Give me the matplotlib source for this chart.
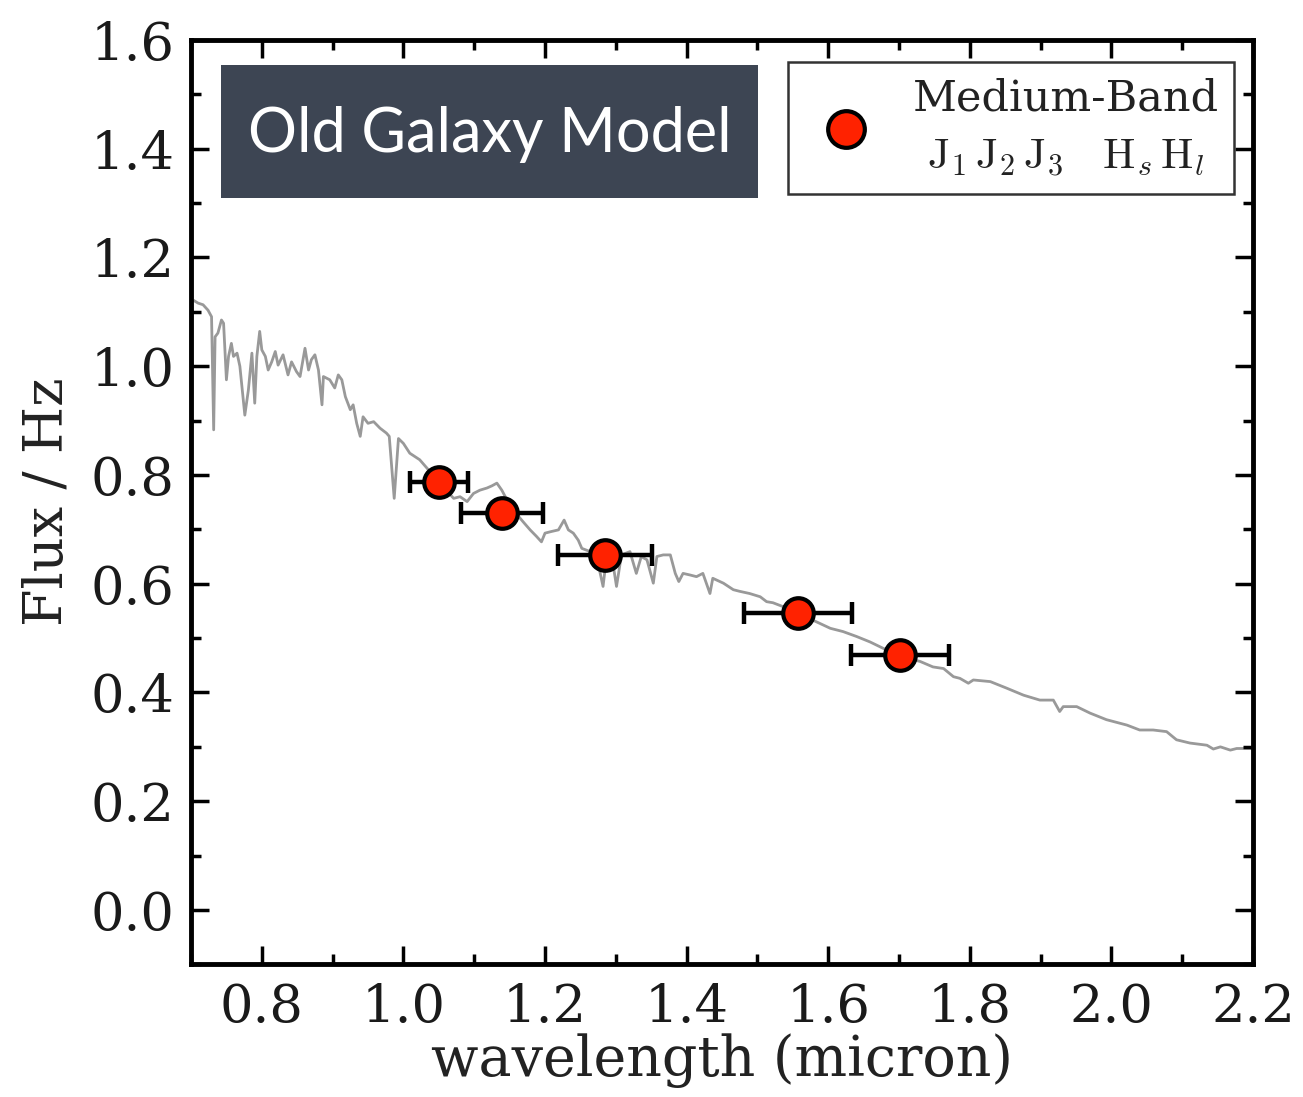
import matplotlib
matplotlib.use("Agg")
import matplotlib.pyplot as plt
from matplotlib.patches import Rectangle
from matplotlib.ticker import MultipleLocator

# model spectrum (micron, flux)
model_wl = [0.705, 0.710, 0.717, 0.724, 0.729, 0.732, 0.734, 0.738, 0.743, 0.746,
            0.750, 0.753, 0.757, 0.760, 0.765, 0.769, 0.776, 0.781, 0.786, 0.790,
            0.793, 0.797, 0.800, 0.805, 0.809, 0.814, 0.819, 0.823, 0.830, 0.837,
            0.842, 0.849, 0.854, 0.861, 0.866, 0.870, 0.875, 0.880, 0.885, 0.887,
            0.896, 0.903, 0.908, 0.913, 0.918, 0.925, 0.929, 0.934, 0.939, 0.943,
            0.950, 0.958, 0.967, 0.976, 0.980, 0.987, 0.993, 1.000, 1.009, 1.023,
            1.035, 1.050, 1.060, 1.071, 1.080, 1.090, 1.099, 1.108, 1.118, 1.125,
            1.132, 1.139, 1.150, 1.160, 1.169, 1.179, 1.188, 1.195, 1.200, 1.209,
            1.219, 1.227, 1.233, 1.240, 1.247, 1.252, 1.262, 1.272, 1.282, 1.287,
            1.295, 1.301, 1.308, 1.320, 1.329, 1.336, 1.344, 1.353, 1.358, 1.367,
            1.377, 1.384, 1.389, 1.395, 1.405, 1.414, 1.423, 1.433, 1.437, 1.452,
            1.466, 1.475, 1.489, 1.504, 1.513, 1.522, 1.540, 1.557, 1.575, 1.588,
            1.603, 1.621, 1.640, 1.659, 1.678, 1.700, 1.715, 1.730, 1.748, 1.763,
            1.777, 1.786, 1.798, 1.805, 1.829, 1.852, 1.876, 1.899, 1.918, 1.927,
            1.932, 1.951, 1.970, 1.993, 2.022, 2.040, 2.059, 2.078, 2.092, 2.111,
            2.135, 2.144, 2.154, 2.168, 2.177, 2.196, 2.200]
model_flux = [1.120, 1.116, 1.113, 1.103, 1.091, 0.883, 1.054, 1.061, 1.085, 1.079,
              0.975, 1.018, 1.042, 1.018, 1.024, 1.000, 0.910, 0.956, 1.024, 0.932,
              1.018, 1.064, 1.030, 1.018, 0.993, 1.008, 1.027, 1.002, 1.021, 0.984,
              1.008, 0.990, 0.981, 1.033, 0.993, 1.012, 1.021, 0.993, 0.929, 0.981,
              0.975, 0.960, 0.984, 0.975, 0.944, 0.920, 0.929, 0.895, 0.871, 0.907,
              0.895, 0.898, 0.886, 0.877, 0.871, 0.757, 0.867, 0.858, 0.840, 0.828,
              0.810, 0.790, 0.772, 0.757, 0.760, 0.751, 0.766, 0.772, 0.776, 0.780,
              0.785, 0.772, 0.745, 0.728, 0.714, 0.699, 0.687, 0.677, 0.693, 0.696,
              0.699, 0.717, 0.699, 0.693, 0.680, 0.665, 0.660, 0.655, 0.595, 0.650,
              0.645, 0.595, 0.653, 0.659, 0.619, 0.650, 0.644, 0.601, 0.650, 0.653,
              0.653, 0.619, 0.604, 0.619, 0.616, 0.613, 0.619, 0.582, 0.610, 0.601,
              0.589, 0.586, 0.582, 0.576, 0.567, 0.565, 0.556, 0.546, 0.535, 0.527,
              0.518, 0.512, 0.503, 0.493, 0.481, 0.469, 0.462, 0.457, 0.447, 0.444,
              0.429, 0.426, 0.417, 0.423, 0.420, 0.408, 0.395, 0.386, 0.386, 0.365,
              0.374, 0.374, 0.362, 0.350, 0.340, 0.331, 0.331, 0.328, 0.313, 0.307,
              0.303, 0.296, 0.300, 0.294, 0.297, 0.297, 0.296]

# medium-band photometry
band_wl = [1.050, 1.139, 1.285, 1.557, 1.701]
band_flux = [0.787, 0.730, 0.653, 0.546, 0.469]
band_width = [0.041, 0.058, 0.066, 0.076, 0.069]

plt.rcParams['font.family'] = 'DejaVu Serif'
plt.rcParams['mathtext.fontset'] = 'cm'

fig = plt.figure(figsize=(13.03, 10.97), dpi=100)
ax = fig.add_axes([0.1466, 0.1209, 0.815, 0.8427])

ax.plot(model_wl, model_flux, color='#999999', lw=2, zorder=1)
ax.errorbar(band_wl, band_flux, xerr=band_width, fmt='none', ecolor='black',
            elinewidth=3.2, capsize=8, capthick=3.2, zorder=2)
ax.plot(band_wl, band_flux, 'o', ms=22, mfc='#ff2200', mec='black', mew=3,
        zorder=3, label='Medium-Band\n' +
        r'$\mathrm{J}_1\,\mathrm{J}_2\,\mathrm{J}_3\quad\mathrm{H}_s\,\mathrm{H}_l$')

ax.set_xlim(0.7, 2.2)
ax.set_ylim(-0.1, 1.6)
ax.xaxis.set_major_locator(MultipleLocator(0.2))
ax.xaxis.set_minor_locator(MultipleLocator(0.1))
ax.yaxis.set_major_locator(MultipleLocator(0.2))
ax.yaxis.set_minor_locator(MultipleLocator(0.1))
ax.tick_params(which='both', direction='in', top=True, right=True, labelsize=38,
               color='black', labelcolor='#1a1a1a')
ax.tick_params(which='major', length=13, width=2.5)
ax.tick_params(which='minor', length=7, width=2.5)
ax.tick_params(axis='x', which='major', pad=13)
ax.tick_params(axis='y', which='major', pad=12)
for sp in ax.spines.values():
    sp.set_linewidth(3.5)

ax.set_xlabel('wavelength (micron)', fontsize=40, labelpad=0, color='#222222')
ax.set_ylabel('Flux / Hz', fontsize=39, labelpad=12, color='#222222')

leg = ax.legend(loc='upper right', bbox_to_anchor=(0.982, 0.976), borderaxespad=0,
                fontsize=31, fancybox=False, edgecolor='#333333', framealpha=1,
                markerscale=1.2, handlelength=2.0, handletextpad=0.55, numpoints=1,
                borderpad=0.35)
leg.get_frame().set_linewidth(1.8)
for t in leg.get_texts():
    t.set_multialignment('center')
    t.set_linespacing(1.5)
    t.set_color('#222222')

# title box in the upper left
fig.patches.append(Rectangle((0.1696, 0.8195), 0.4121, 0.1212, transform=fig.transFigure,
                             facecolor='#3d4553', edgecolor='none', zorder=5))
fig.text(0.3757, 0.8775, 'Old Galaxy Model', color='white', fontsize=44,
         family=['Lato', 'DejaVu Sans'], weight='normal', ha='center', va='center',
         zorder=6)

fig.savefig('out.png', dpi=100)
